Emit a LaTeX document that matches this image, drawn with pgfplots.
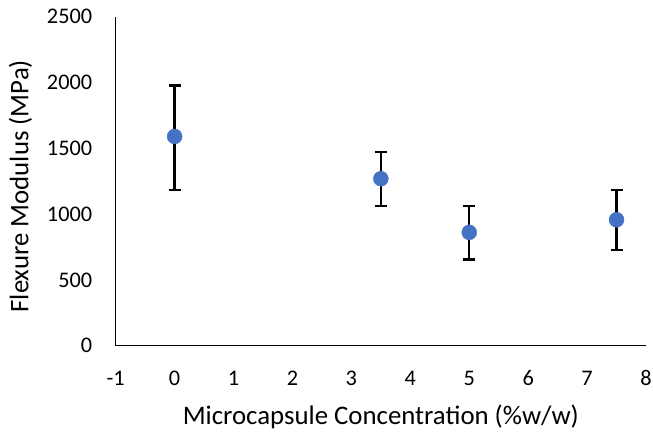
\documentclass[border=0pt]{standalone}
\usepackage{pgfplots}
\pgfplotsset{compat=1.18}
\usepackage{pgfplotstable}
\usepackage{fontspec}
\setmainfont{Carlito}
\definecolor{xlblue}{HTML}{4472C4}
\pgfplotstableread{
x y ep em
0 1590 388 405
3.5 1269 203 207
5 861 203 205
7.5 957 226 230
}\datatable
\begin{document}
\begin{tikzpicture}
\begin{axis}[
  scale only axis, width=530.3bp, height=329bp,
  xmin=-1, xmax=8, ymin=0, ymax=2500,
  xtick={-1,0,...,8}, ytick={0,500,...,2500},
  axis x line*=bottom, axis y line*=left,
  axis line style={line width=1.3bp, black},
  major tick length=0pt,
  /pgf/number format/assume math mode=true,
  /pgf/number format/1000 sep={},
  ticklabel style={font=\fontsize{22.3bp}{26bp}\selectfont, inner sep=0pt},
  yticklabel style={anchor=east, xshift=-23.3bp},
  xticklabel style={anchor=base, yshift=-40bp},
  xlabel={Microcapsule Concentration (\%w/w)},
  ylabel={Flexure Modulus (MPa)},
  every axis x label/.style={at={(axis description cs:0.5,0)}, yshift=-78.3bp, anchor=base, inner sep=0pt, font=\fontsize{26.8bp}{30bp}\selectfont},
  every axis y label/.style={at={(axis description cs:0,0.5)}, xshift=-87.2bp, yshift=-5bp, anchor=base, rotate=90, inner sep=0pt, font=\fontsize{26.8bp}{30bp}\selectfont},
  clip=false,
]
\addplot[draw=none, mark=none,
  error bars/.cd, y dir=both, y explicit,
  error bar style={line width=2.3bp, black},
  error mark options={line width=2.3bp, black, mark size=6bp, rotate=90}]
  table[x=x, y=y, y error plus=ep, y error minus=em] {\datatable};
\addplot[only marks, mark=*, mark size=7.5bp, mark options={draw=xlblue, fill=xlblue}]
  table[x=x, y=y] {\datatable};
\end{axis}
\path ([xshift=-115.7bp,yshift=-86.3bp]current axis.south west) rectangle ++(653bp,432bp);
\end{tikzpicture}
\end{document}
